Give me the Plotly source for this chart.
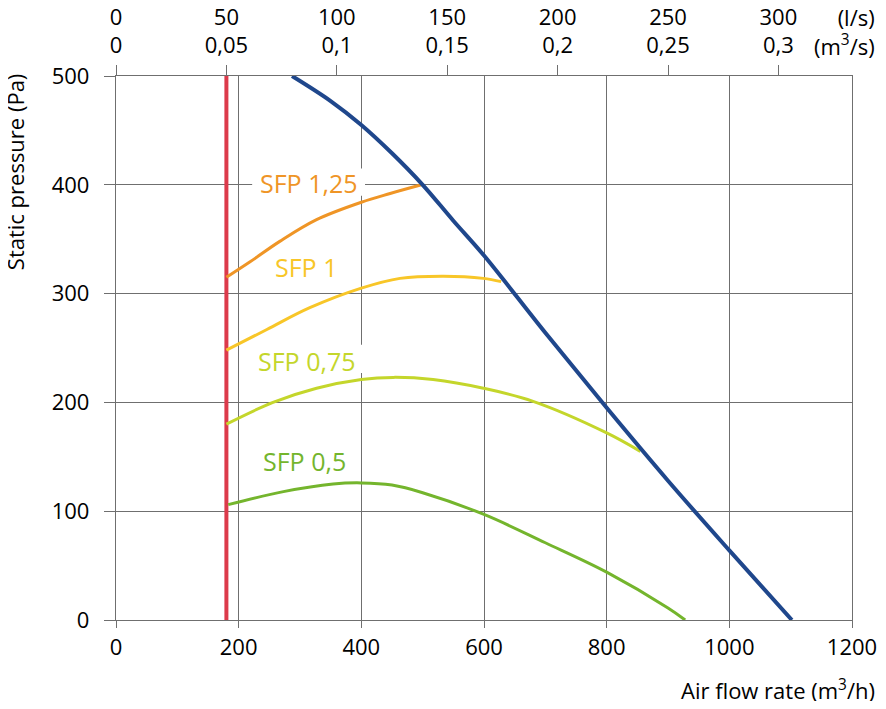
import plotly.graph_objects as go

# fan curve (m3/h, Pa)
fan_flow = [287, 350, 400, 450, 500, 550, 600, 700, 800, 900, 1000, 1102]
fan_pres = [500, 477, 455, 429, 400, 367, 335, 264, 195, 128, 64, 0]

# SFP curves
sfp125_flow = [180, 218, 267, 327, 400, 447, 498]
sfp125_pres = [315, 329, 348, 368, 384, 392, 400]

sfp1_flow = [180, 246, 316, 400, 463, 534, 599, 628]
sfp1_pres = [248, 267, 287, 305, 314, 316, 314, 311]

sfp075_flow = [180, 256, 327, 400, 452, 517, 599, 680, 800, 855]
sfp075_pres = [180, 200, 213, 221, 223, 221, 213, 201, 172, 155]

sfp05_flow = [183, 273, 354, 400, 450, 500, 600, 700, 800, 900, 928]
sfp05_pres = [106, 118, 125, 126, 124, 117, 97, 71, 44, 11, 0]

min_flow = 180  # minimum flow line

# top axis (l/s and m3/s), positioned on the m3/h scale
ls_vals = [0, 50, 100, 150, 200, 250, 300]
ms_text = ["0", "0,05", "0,1", "0,15", "0,2", "0,25", "0,3"]

grid = "#6f6f6f"
font = "Open Sans"

fig = go.Figure()

fig.add_trace(go.Scatter(x=[min_flow, min_flow], y=[0, 500], mode="lines",
                         line=dict(color="#dc3a4b", width=4), hoverinfo="skip"))

curves = [
    (sfp125_flow, sfp125_pres, "#ef9526"),
    (sfp1_flow, sfp1_pres, "#f8c628"),
    (sfp075_flow, sfp075_pres, "#c4d62b"),
    (sfp05_flow, sfp05_pres, "#74b52d"),
]
for fx, fy, col in curves:
    fig.add_trace(go.Scatter(x=fx, y=fy, mode="lines",
                             line=dict(color=col, width=3, shape="spline", smoothing=1),
                             hoverinfo="skip"))

fig.add_trace(go.Scatter(x=fan_flow, y=fan_pres, mode="lines",
                         line=dict(color="#1f478c", width=4, shape="spline", smoothing=1),
                         hoverinfo="skip"))

# invisible trace for the top axis
fig.add_trace(go.Scatter(x=[0], y=[0], xaxis="x2", mode="markers", marker=dict(opacity=0),
                         hoverinfo="skip"))

# label text, position, colour, white box behind it (covers the grid only)
labels = [
    ("SFP 1,25", 315, 402, "#ef9526", (222, 406, 390, 415)),
    ("SFP 1", 310, 324, "#f8c628", None),
    ("SFP 0,75", 312, 238, "#c4d62b", (225, 406, 227, 253)),
    ("SFP 0,5", 308, 146, "#74b52d", None),
]
for txt, lx, ly, col, box in labels:
    if box:
        fig.add_shape(type="rect", x0=box[0], x1=box[1], y0=box[2], y1=box[3],
                      fillcolor="white", line_width=0, layer="between")
    fig.add_annotation(x=lx, y=ly, text=txt, showarrow=False,
                       font=dict(family=font, size=25, color=col))

fig.add_annotation(xref="paper", yref="paper", x=-0.137, y=0.8235, text="Static pressure (Pa)",
                   textangle=-90, showarrow=False, xanchor="center", yanchor="middle",
                   font=dict(family=font, size=22, color="black"))
fig.add_annotation(xref="paper", yref="paper", x=1.034, y=-0.127, xanchor="right", yanchor="middle",
                   text="Air flow rate (m<sup>3</sup>/h)", showarrow=False,
                   font=dict(family=font, size=22, color="black"))
fig.add_annotation(xref="paper", yref="paper", x=1.034, y=1.081, xanchor="right", yanchor="middle",
                   text="(l/s)<br>(m<sup>3</sup>/s)", align="right", showarrow=False,
                   font=dict(family=font, size=22, color="black"))

fig.update_layout(
    showlegend=False,
    plot_bgcolor="white",
    paper_bgcolor="white",
    margin=dict(l=108, r=26, t=68, b=81, autoexpand=False),
    font=dict(family=font, size=22, color="black"),
    xaxis=dict(range=[0, 1200], tickvals=list(range(0, 1201, 200)), showgrid=True,
               gridcolor=grid, gridwidth=1.3, zeroline=False, showline=True, mirror=True,
               linecolor=grid, linewidth=1.3, ticks="outside", ticklen=7, tickcolor=grid,
               automargin=False),
    yaxis=dict(range=[0, 500], tickvals=list(range(0, 501, 100)), showgrid=True,
               gridcolor=grid, gridwidth=1.3, zeroline=False, showline=True, mirror=True,
               linecolor=grid, linewidth=1.3, ticks="outside", ticklen=11, tickcolor=grid,
               ticklabelstandoff=10, automargin=False),
    xaxis2=dict(overlaying="x", side="top", anchor="y", range=[0, 1200],
                tickvals=[v * 3.6 for v in ls_vals],
                ticktext=[f"{a}<br>{b}" for a, b in zip(ls_vals, ms_text)],
                showgrid=False, zeroline=False, ticks="outside", ticklen=10, tickcolor=grid,
                ticklabelstandoff=3, automargin=False),
)

fig.write_html("out.html")
